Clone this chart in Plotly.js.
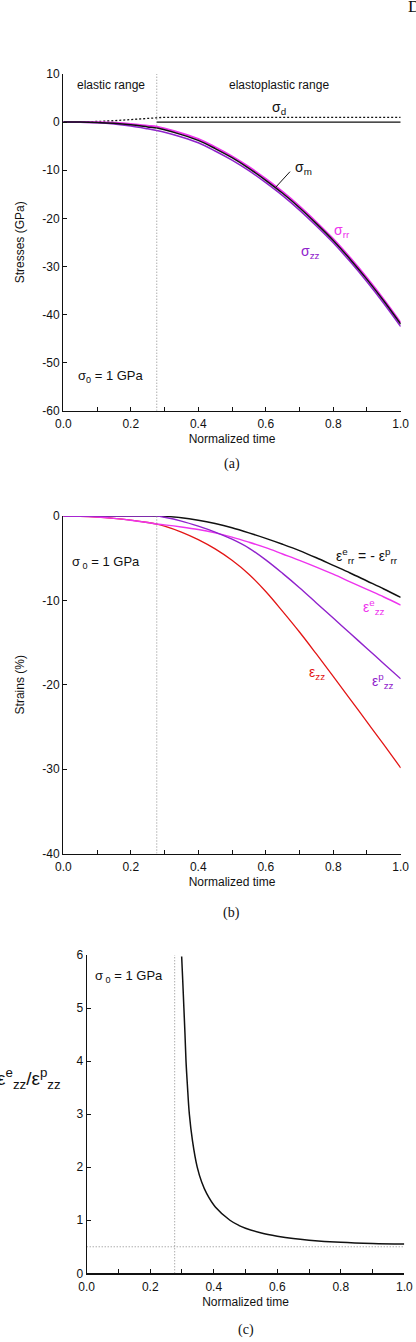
<!DOCTYPE html>
<html>
<head>
<meta charset="utf-8">
<script src="https://cdn.plot.ly/plotly-3.0.1.min.js"></script>
<style>
  html, body { margin: 0; padding: 0; background: #fff; overflow: hidden; }
  #fig { width: 416px; height: 1342px; }
</style>
</head>
<body>
<div id="fig"></div>
<script>
// ---- data -------------------------------------------------------------
// normalized time grid shared by the stress and strain histories
const time = [0, 0.05, 0.10, 0.15, 0.20, 0.25, 0.277, 0.30, 0.35, 0.40, 0.45, 0.50,
              0.55, 0.60, 0.65, 0.70, 0.75, 0.80, 0.85, 0.90, 0.95, 1.00];
const yieldTime = 0.277;

// (a) stresses, GPa
const sigmaM  = [0, 0, -0.08, -0.25, -0.55, -1.0, -1.25, -1.6, -2.6, -3.8, -5.5, -7.4,
                 -9.6, -12.1, -14.8, -17.8, -21.1, -24.6, -28.5, -32.7, -37.2, -42.0];
const sigmaRR = [0, 0, -0.04, -0.16, -0.39, -0.76, -0.95, -1.3, -2.3, -3.5, -5.2, -7.1,
                 -9.3, -11.8, -14.5, -17.5, -20.8, -24.3, -28.2, -32.4, -36.9, -41.7];
const sigmaZZ = [0, -0.02, -0.15, -0.4, -0.81, -1.4, -1.75, -2.1, -3.1, -4.3, -6.0, -7.9,
                 -10.1, -12.6, -15.3, -18.3, -21.6, -25.1, -29.0, -33.2, -37.7, -42.5];
const sigmaD  = [0, 0.03, 0.13, 0.29, 0.52, 0.81, 1.0, 1.0, 1.0, 1.0, 1.0, 1.0,
                 1.0, 1.0, 1.0, 1.0, 1.0, 1.0, 1.0, 1.0, 1.0, 1.0];
const baseTime = [0.277, 1.0];
const baseLine = [0, 0];
const stressTicks = [10, 0, -10, -20, -30, -40, -50, -60];
const stressTickText = ['10', '0', '-10', '-20', '-30', '-40', '-50', '-60'];

// (b) strains, %
const epsErr = [0, 0, 0, 0, 0, 0, 0, -0.04, -0.2, -0.5, -0.9, -1.4,
                -2.0, -2.65, -3.35, -4.1, -4.95, -5.85, -6.75, -7.7, -8.65, -9.65];
const epsEzz = [0, -0.03, -0.12, -0.28, -0.5, -0.77, -0.95, -1.05, -1.3, -1.6, -2.0, -2.5,
                -3.1, -3.75, -4.5, -5.25, -6.05, -6.9, -7.8, -8.7, -9.6, -10.55];
const epsPzz = [0, 0, 0, 0, 0, 0, 0, -0.15, -0.6, -1.2, -1.9, -2.75,
                -3.8, -5.2, -6.8, -8.5, -10.3, -12.1, -13.9, -15.7, -17.5, -19.3];
const epsZZ  = [0, -0.03, -0.12, -0.28, -0.5, -0.77, -0.95, -1.2, -1.9, -2.8, -3.9, -5.25,
                -6.9, -8.95, -11.3, -13.75, -16.35, -19.0, -21.7, -24.4, -27.1, -29.85];
const strainTicks = [0, -10, -20, -30, -40];
const strainTickText = ['0', '-10', '-20', '-30', '-40'];

// (c) elastic / plastic axial strain ratio
const ratioTime = [0.299, 0.3025, 0.306, 0.3095, 0.3127, 0.317, 0.3232, 0.333, 0.348, 0.362, 0.378,
                   0.405, 0.451, 0.48, 0.50, 0.55, 0.60, 0.65, 0.70, 0.80, 0.90, 1.00];
const ratio = [5.97, 5.5, 5.0, 4.5, 4.0, 3.55, 3.0, 2.5, 2.0, 1.72, 1.5,
               1.25, 1.0, 0.9, 0.85, 0.76, 0.70, 0.655, 0.625, 0.585, 0.562, 0.55];
const ratioAsymptote = 0.5;

// ---- page geometry (pixels) -------------------------------------------
const W = 416, H = 1342;
const fx = p => p / W;
const fy = p => 1 - p / H;

const SANS = 'Liberation Sans, Arial, Helvetica, sans-serif';
const SERIF = 'Liberation Serif, Times New Roman, serif';
const INK = '#111';
const PINK = '#ee33ee';
const PURPLE = '#9022cc';
const RED = '#e31515';
const DOTS = '#888';

const sm = { shape: 'spline', smoothing: 1 };

const traces = [
  // (a)
  { x: time, y: sigmaD, xaxis: 'x', yaxis: 'y', mode: 'lines',
    line: { color: INK, width: 1.3, dash: '2px,2px' } },
  { x: baseTime, y: baseLine, xaxis: 'x', yaxis: 'y', mode: 'lines',
    line: { color: INK, width: 1.3 } },
  { x: time, y: sigmaRR, xaxis: 'x', yaxis: 'y', mode: 'lines',
    line: Object.assign({ color: PINK, width: 2 }, sm) },
  { x: time, y: sigmaZZ, xaxis: 'x', yaxis: 'y', mode: 'lines',
    line: Object.assign({ color: PURPLE, width: 1.5 }, sm) },
  { x: time, y: sigmaM, xaxis: 'x', yaxis: 'y', mode: 'lines',
    line: Object.assign({ color: INK, width: 1.5 }, sm) },
  // (b)
  { x: time, y: epsErr, xaxis: 'x2', yaxis: 'y2', mode: 'lines', cliponaxis: false,
    line: Object.assign({ color: INK, width: 1.5 }, sm) },
  { x: time, y: epsZZ, xaxis: 'x2', yaxis: 'y2', mode: 'lines', cliponaxis: false,
    line: Object.assign({ color: RED, width: 1.3 }, sm) },
  { x: time, y: epsEzz, xaxis: 'x2', yaxis: 'y2', mode: 'lines', cliponaxis: false,
    line: Object.assign({ color: PINK, width: 1.4 }, sm) },
  { x: time, y: epsPzz, xaxis: 'x2', yaxis: 'y2', mode: 'lines', cliponaxis: false,
    line: Object.assign({ color: PURPLE, width: 1.4 }, sm) },
  // (c)
  { x: [0, 1], y: [ratioAsymptote, ratioAsymptote], xaxis: 'x3', yaxis: 'y3', mode: 'lines',
    line: { color: DOTS, width: 1, dash: '1px,2px' } },
  { x: ratioTime, y: ratio, xaxis: 'x3', yaxis: 'y3', mode: 'lines', cliponaxis: false,
    line: Object.assign({ color: INK, width: 1.5 }, sm) }
];

function xAxis(domain, anchor) {
  return {
    domain: domain, anchor: anchor, range: [0, 1], dtick: 0.2, tick0: 0, tickformat: '.1f',
    ticks: 'inside', ticklen: 4, tickwidth: 1, tickcolor: INK, ticklabelstandoff: 2,
    minor: { dtick: 0.1, tick0: 0, ticks: 'inside', ticklen: 4, tickwidth: 1, tickcolor: INK },
    showline: true, linecolor: INK, linewidth: 1.2, showgrid: false, zeroline: false,
    tickfont: { family: SANS, size: 12, color: INK },
    title: { text: 'Normalized time', font: { family: SANS, size: 12, color: INK }, standoff: 4 },
    automargin: false, fixedrange: true
  };
}
function yAxis(domain, anchor, range, tv, tt, title) {
  const a = {
    domain: domain, anchor: anchor, range: range,
    ticks: 'inside', ticklen: 4, tickwidth: 1, tickcolor: INK,
    showline: true, linecolor: INK, linewidth: 1.2, showgrid: false, zeroline: false,
    tickfont: { family: SANS, size: 12, color: INK },
    automargin: false, fixedrange: true
  };
  if (tv) { a.tickmode = 'array'; a.tickvals = tv; a.ticktext = tt; } else { a.dtick = 1; }
  if (title) a.title = { text: title, font: { family: SANS, size: 12, color: INK }, standoff: 15 };
  return a;
}

const xdomAB = [fx(63.3), fx(400.7)];
const xdomC = [fx(86.7), fx(404.3)];

const layout = {
  width: W, height: H, autosize: false,
  margin: { l: 0, r: 0, t: 0, b: 0, pad: 0 },
  paper_bgcolor: '#fff', plot_bgcolor: '#fff', showlegend: false,
  font: { family: SANS, size: 12, color: INK },
  xaxis: xAxis(xdomAB, 'y'),
  yaxis: yAxis([fy(410.7), fy(74)], 'x', [-60, 10], stressTicks, stressTickText, 'Stresses (GPa)'),
  xaxis2: xAxis(xdomAB, 'y2'),
  yaxis2: yAxis([fy(853.5), fy(516)], 'x2', [-40, 0], strainTicks, strainTickText, 'Strains (%)'),
  xaxis3: xAxis(xdomC, 'y3'),
  yaxis3: yAxis([fy(1273.3), fy(955)], 'x3', [0, 6], null, null, null),
  shapes: [
    { type: 'line', xref: 'x', yref: 'y', x0: yieldTime, x1: yieldTime, y0: -60, y1: 10,
      line: { color: DOTS, width: 1, dash: '1px,2px' } },
    { type: 'line', xref: 'x', yref: 'y', x0: 0.672, y0: -10.3, x1: 0.628, y1: -13.66,
      line: { color: INK, width: 1 } },
    { type: 'line', xref: 'x2', yref: 'y2', x0: yieldTime, x1: yieldTime, y0: -40, y1: 0,
      line: { color: DOTS, width: 1, dash: '1px,2px' } },
    { type: 'line', xref: 'x3', yref: 'y3', x0: yieldTime, x1: yieldTime, y0: 0, y1: 6,
      line: { color: DOTS, width: 1, dash: '1px,2px' } }
  ],
  annotations: []
};

function note(text, xref, yref, x, y, opts) {
  layout.annotations.push(Object.assign({
    text: text, xref: xref, yref: yref, x: x, y: y, showarrow: false,
    xanchor: 'center', yanchor: 'middle',
    font: { family: SANS, size: 12, color: INK }
  }, opts || {}));
}
const f = (size, color) => ({ font: { family: SANS, size: size, color: color || INK } });

// (a) labels
note('elastic range', 'x', 'y', 0.142, 7.7);
note('elastoplastic range', 'x', 'y', 0.639, 7.7);
note('σ<sub>d</sub>', 'x', 'y', 0.639, 3.0, f(14));
note('σ<sub>m</sub>', 'x', 'y', 0.681, -9.6, Object.assign({ xanchor: 'left' }, f(14)));
note('σ<sub>rr</sub>', 'x', 'y', 0.826, -22.7, f(14, PINK));
note('σ<sub>zz</sub>', 'x', 'y', 0.734, -27.0, f(14, PURPLE));
note('σ<sub>0</sub> = 1 GPa', 'x', 'y', 0.142, -52.8, f(13));

// (b) labels
note('σ<sub> 0</sub> = 1 GPa', 'x2', 'y2', 0.127, -5.54, f(13));
note('ε<sup>e</sup><sub>rr</sub> = - ε<sup>p</sup><sub>rr</sub>', 'x2', 'y2', 0.899, -4.75, f(14));
note('ε<sup>e</sup><sub>zz</sub>', 'x2', 'y2', 0.921, -10.8, f(14, PINK));
note('ε<sub>zz</sub>', 'x2', 'y2', 0.752, -18.6, f(14, RED));
note('ε<sup>p</sup><sub>zz</sub>', 'x2', 'y2', 0.948, -19.6, f(14, PURPLE));

// (c) labels
note('σ<sub> 0</sub> = 1 GPa', 'x3', 'y3', 0.133, 5.59, f(13));
note('ε<sup>e</sup><sub>zz</sub>/ε<sup>p</sup><sub>zz</sub>', 'paper', 'paper', fx(63), fy(1078),
     Object.assign({ xanchor: 'right' }, f(19)));

// panel captions
const serif = size => ({ font: { family: SERIF, size: size, color: INK } });
note('(a)', 'paper', 'paper', fx(231.7), fy(464), serif(14));
note('(b)', 'paper', 'paper', fx(231.7), fy(912.7), serif(14));
note('(c)', 'paper', 'paper', fx(245.7), fy(1330), serif(14));
note('D', 'paper', 'paper', fx(405.5), fy(6), Object.assign({ xanchor: 'left' }, serif(17)));

Plotly.newPlot('fig', traces, layout, { staticPlot: true, displayModeBar: false });
</script>
</body>
</html>
